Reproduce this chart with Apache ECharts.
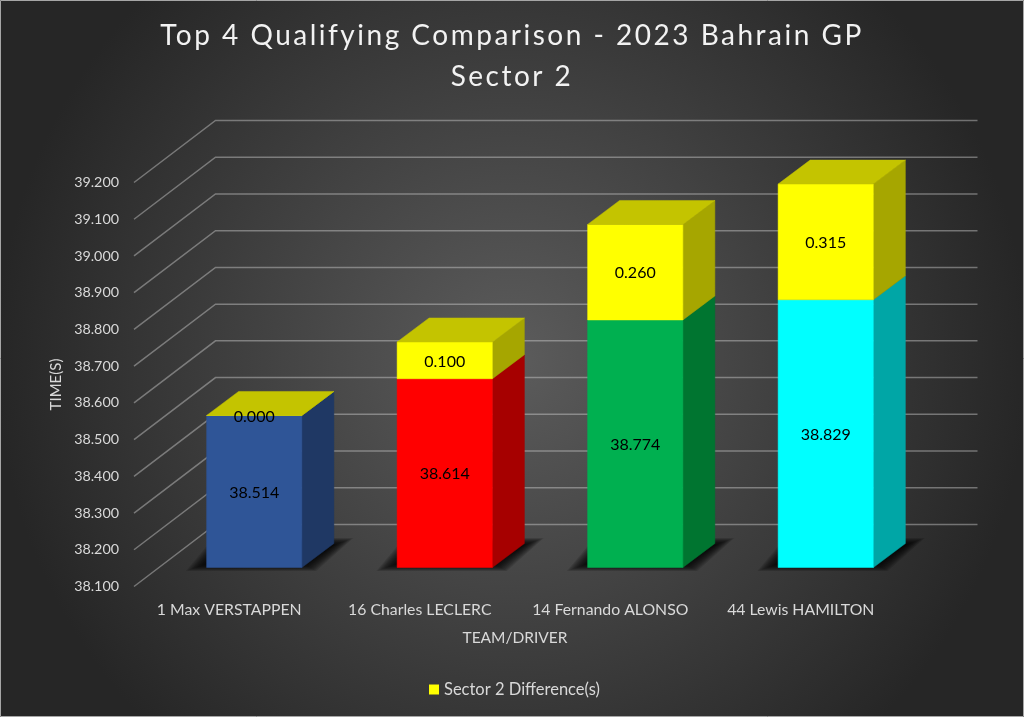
<!DOCTYPE html>
<html>
<head>
<meta charset="utf-8">
<style>html,body{margin:0;padding:0;background:#262626}#c{width:1024px;height:717px}</style>
<script src="https://cdn.jsdelivr.net/npm/echarts@6/dist/echarts.min.js"></script>
</head>
<body>
<div id="c"></div>
<script>
const categories = ['1 Max VERSTAPPEN', '16 Charles LECLERC', '14 Fernando ALONSO', '44 Lewis HAMILTON'];
const sectorTimes = [38.514, 38.614, 38.774, 38.829];
const sectorDiffs = [0.000, 0.100, 0.260, 0.315];
const yTicks = [38.1, 38.2, 38.3, 38.4, 38.5, 38.6, 38.7, 38.8, 38.9, 39.0, 39.1, 39.2];
const timeColors = ['#2f5597', '#ff0000', '#00b050', '#00ffff'];
const timeSideColors = ['#1f3864', '#a60000', '#007530', '#00a6a6'];
const diffColor = '#ffff00';
const diffSideColor = '#a6a600';
const diffTopColor = '#c4c400';
const legendName = 'Sector 2 Difference(s)';

const FONT = 'Lato, Carlito, sans-serif';
const TITLE_SIZE = 28;
const WALL_DX = 81.5, WALL_DY = -62;
const BAR_DX = 25, BAR_DY = -19;
const DEPTH_DX = 32, DEPTH_DY = -24;
const SHADOW_LAYERS = 14;

// The title in the reference is letter-spaced; ECharts has no option for that, so apply it at draw time.
const nativeFillText = CanvasRenderingContext2D.prototype.fillText;
CanvasRenderingContext2D.prototype.fillText = function (text, x, y, maxW) {
  const spaced = this.font.indexOf(TITLE_SIZE + 'px') >= 0;
  if ('letterSpacing' in this) this.letterSpacing = spaced ? '2.5px' : '0px';
  return maxW === undefined ? nativeFillText.call(this, text, x, y) : nativeFillText.call(this, text, x, y, maxW);
};

function poly(points, fill) {
  return {type: 'polygon', shape: {points}, style: {fill, stroke: fill, lineWidth: 0.5}};
}
function label(text, x, y) {
  return {type: 'text', z2: 10, style: {text, x, y: y + 1, align: 'center', verticalAlign: 'middle', fill: '#000', font: '16px ' + FONT}};
}

function renderGrid(params, api) {
  const cs = params.coordSys;
  const y = api.coord([0, api.value(0)])[1];
  const x0 = cs.x, x1 = cs.x + cs.width;
  return {type: 'polyline', silent: true,
    shape: {points: [[x0, y], [x0 + WALL_DX, y + WALL_DY], [x1 + WALL_DX, y + WALL_DY]]},
    style: {stroke: 'rgba(217,217,217,0.42)', lineWidth: 1.5, fill: 'none'}};
}

function barFrame(api) {
  const i = api.value(0);
  const w = api.size([1, 0])[0] / 2;
  const c = api.coord([i, api.value(1)]);
  const t = api.coord([i, api.value(2)]);
  const x0 = c[0] - w / 2 + BAR_DX, x1 = x0 + w;
  return {i, x0, x1, yb: c[1] + BAR_DY, yt: t[1] + BAR_DY};
}
function prism(f, front, side) {
  return [
    poly([[f.x1, f.yb], [f.x1 + DEPTH_DX, f.yb + DEPTH_DY], [f.x1 + DEPTH_DX, f.yt + DEPTH_DY], [f.x1, f.yt]], side),
    poly([[f.x0, f.yb], [f.x1, f.yb], [f.x1, f.yt], [f.x0, f.yt]], front)
  ];
}
// Soft floor shadow: nested translucent polygons that widen outward.
function softShadow(f) {
  const layers = [];
  for (let k = SHADOW_LAYERS - 1; k >= 0; k--) {
    layers.push({type: 'polygon', silent: true,
      shape: {points: [
        [f.x0 + 4 - 1.9 * k, f.yb - 5 + 0.65 * k],
        [f.x1 + 1.1 * k, f.yb - 5 + 0.65 * k],
        [f.x1 + 28 + 1.8 * k, f.yb - 21 - 0.65 * k],
        [f.x0 + 20 - k, f.yb - 21 - 0.65 * k]
      ]},
      style: {fill: 'rgba(0,0,0,0.13)'}});
  }
  return layers;
}

function renderBase(params, api) {
  const f = barFrame(api);
  const children = softShadow(f).concat(prism(f, timeColors[f.i], timeSideColors[f.i]));
  children.push(label(api.value(2).toFixed(3), (f.x0 + f.x1) / 2, (f.yb + f.yt) / 2));
  return {type: 'group', children};
}
function renderDiff(params, api) {
  const f = barFrame(api);
  const children = prism(f, diffColor, diffSideColor);
  children.push(poly([[f.x0, f.yt], [f.x1, f.yt], [f.x1 + DEPTH_DX, f.yt + DEPTH_DY], [f.x0 + DEPTH_DX, f.yt + DEPTH_DY]], diffTopColor));
  children.push(label(api.value(3).toFixed(3), (f.x0 + f.x1) / 2, (f.yb + f.yt) / 2));
  return {type: 'group', children};
}

const chart = echarts.init(document.getElementById('c'), null, {renderer: 'canvas', width: 1024, height: 717});
chart.setOption({
  animation: false,
  backgroundColor: {type: 'radial', x: 0.5, y: 0.5, r: 0.72,
    colorStops: [{offset: 0, color: '#5c5c5c'}, {offset: 1, color: '#262626'}]},
  title: {
    text: 'Top 4 Qualifying Comparison - 2023 Bahrain GP\nSector 2',
    left: 507, top: 10, textAlign: 'center',
    textStyle: {color: '#f2f2f2', fontFamily: FONT, fontWeight: 'normal', fontSize: TITLE_SIZE, lineHeight: 41}
  },
  legend: {
    data: [{name: legendName, icon: 'rect', itemStyle: {color: diffColor}}],
    left: 424, top: 676, itemWidth: 10, itemHeight: 10, itemGap: 4,
    textStyle: {color: '#d9d9d9', fontFamily: FONT, fontSize: 16.5}, selectedMode: false
  },
  grid: {left: 134, top: 182.5, width: 762, height: 404},
  xAxis: {
    type: 'category', data: categories,
    name: 'TEAM/DRIVER', nameLocation: 'middle', nameGap: 43,
    nameTextStyle: {color: '#d9d9d9', fontFamily: FONT, fontSize: 15.5},
    axisLine: {show: false}, axisTick: {show: false},
    axisLabel: {color: '#d9d9d9', fontFamily: FONT, fontSize: 15.8, margin: 15, interval: 0}
  },
  yAxis: {
    type: 'value', min: 38.1, max: 39.2, interval: 0.1,
    name: 'TIME(S)', nameLocation: 'middle', nameRotate: 90, nameGap: 69,
    nameTextStyle: {color: '#d9d9d9', fontFamily: FONT, fontSize: 15},
    axisLine: {show: false}, axisTick: {show: false}, splitLine: {show: false},
    axisLabel: {color: '#d9d9d9', fontFamily: FONT, fontSize: 14.3, margin: 15, formatter: v => v.toFixed(3)}
  },
  series: [
    {type: 'custom', name: 'Gridlines', silent: true, z: 1, renderItem: renderGrid,
      encode: {y: 0}, data: yTicks.map(v => [v])},
    {type: 'custom', name: 'Sector 2 Time(s)', silent: true, z: 2, renderItem: renderBase,
      encode: {x: 0, y: [1, 2]}, data: sectorTimes.map((v, i) => [i, 38.1, v])},
    {type: 'custom', name: legendName, silent: true, z: 3, renderItem: renderDiff, itemStyle: {color: diffColor},
      encode: {x: 0, y: [1, 2]}, data: sectorTimes.map((v, i) => [i, v, v + sectorDiffs[i], sectorDiffs[i]])}
  ],
  graphic: [{type: 'rect', z: 100, silent: true, shape: {x: 0.5, y: 0.5, width: 1023, height: 716},
    style: {fill: 'none', stroke: '#a6a6a6', lineWidth: 1}}]
});
</script>
</body>
</html>
